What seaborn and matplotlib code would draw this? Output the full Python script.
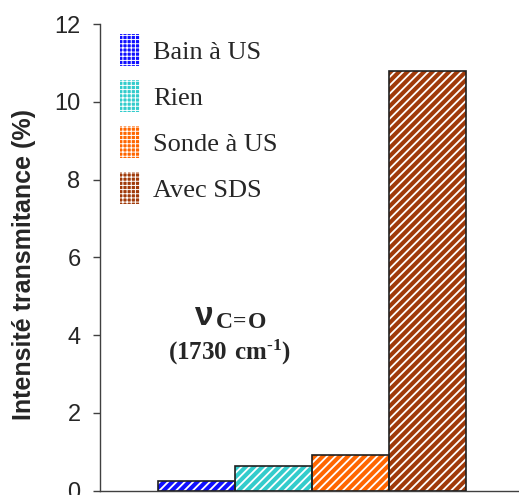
import matplotlib
matplotlib.use("Agg")
import matplotlib.pyplot as plt
import seaborn as sns
import pandas as pd
from matplotlib.patches import Patch, Rectangle

categories = ["Bain à US", "Rien", "Sonde à US", "Avec SDS"]
values = [0.24, 0.63, 0.91, 10.8]
colors = ["#1010FF", "#33CCCC", "#FF6600", "#A03A0A"]
yticks = [0, 2, 4, 6, 8, 10, 12]

sns.set_theme(style="white")
plt.rcParams["font.family"] = ["Liberation Sans", "DejaVu Sans"]
plt.rcParams["hatch.linewidth"] = 1.3
plt.rcParams["mathtext.fontset"] = "custom"
plt.rcParams["mathtext.bf"] = "Liberation Serif:bold"
plt.rcParams["mathtext.rm"] = "Liberation Serif"

df = pd.DataFrame({"cat": categories, "val": values})

W, H = 519, 495
fig = plt.figure(figsize=(W / 100, H / 100), dpi=100)
ax = fig.add_axes([100 / W, 4.3 / H, 1 - 100 / W, (490.7 - 24) / H])

sns.barplot(data=df, x="cat", y="val", hue="cat", palette=colors, width=1.0,
            legend=False, ax=ax, saturation=1)

for p in list(ax.patches):
    p.set_edgecolor("white")
    p.set_hatch("////")
    p.set_linewidth(0)
    x, y = p.get_xy()
    ax.add_patch(Rectangle((x, y), p.get_width(), p.get_height(), fill=False,
                           edgecolor="#202020", linewidth=1.2, zorder=3))

ax.set_ylim(0, 12)
ax.set_xlim(-1.25, 4.19)
ax.set_yticks(yticks)
ax.set_yticklabels([str(t) for t in yticks], fontsize=17)
ax.set_xticks([])
ax.set_xlabel("")
ax.set_ylabel("")
ax.tick_params(axis="y", direction="out", length=5, width=1, color="#404040",
               left=True, pad=9)
for s in ["top", "right"]:
    ax.spines[s].set_visible(False)
for s in ["left", "bottom"]:
    ax.spines[s].set_color("#404040")
    ax.spines[s].set_linewidth(1)

fig.text(24 / W, 1 - 265 / H, "Intensité transmitance (%)", rotation=90,
         fontsize=18, fontweight="bold", ha="center", va="center")

with plt.rc_context({"hatch.linewidth": 0.7}):
    handles = [Patch(facecolor=c, edgecolor="white", hatch="++++", linewidth=0) for c in colors]
    leg = fig.legend(handles, categories, loc="upper left",
                     bbox_to_anchor=(120 / W, 1 - 34 / H),
                     frameon=False, borderpad=0, borderaxespad=0,
                     prop={"family": "Liberation Serif", "size": 19},
                     handlelength=0.76, handleheight=1.49, labelspacing=0.53,
                     handletextpad=0.5)

ax.text(0.22, 4.25, "ν", fontsize=24, fontweight="bold", ha="right", va="baseline",
        family="Liberation Sans")
ax.text(0.24, 4.18, r"$\mathbf{C\!=\!O}$", fontsize=17, ha="left", va="baseline")
ax.text(0.43, 3.36, "$\\mathbf{(1730\\ cm^{\u20101})}$", fontsize=18, ha="center",
        va="baseline")

fig.savefig("out.png", dpi=100)
